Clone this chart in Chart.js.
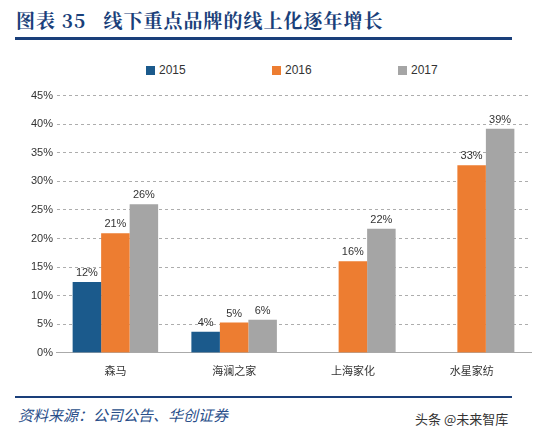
<!DOCTYPE html>
<html><head><meta charset="utf-8">
<script src="https://cdn.jsdelivr.net/npm/chart.js@4"></script>
<style>
body{margin:0;width:558px;height:439px;background:#fff;position:relative;font-family:"Noto Sans CJK SC",sans-serif;overflow:hidden}
#t{position:absolute;left:16px;top:6px;font-size:19px;font-weight:bold;color:#1a3f7a;font-family:"Noto Serif CJK SC","Noto Sans CJK SC",serif;letter-spacing:1px}
.ln{position:absolute;left:15px;width:497px;height:3px;background:#1a3f7a}
#src{position:absolute;left:18px;top:404px;font-size:15px;font-style:italic;color:#2a4f8a}
#wm{position:absolute;left:415px;top:409px;font-size:13px;color:#333}
#c{position:absolute;left:0;top:86px}
#lg{position:absolute;top:63px;left:0;font:12px "Liberation Sans";color:#333}
#lg span{position:absolute;white-space:nowrap}
#lg i{display:inline-block;width:9px;height:9px;margin-right:4px;vertical-align:-1px}
</style></head><body>
<div id="t">图表 35&nbsp;&nbsp;&nbsp;线下重点品牌的线上化逐年增长</div>
<div class="ln" style="top:37px"></div>
<div class="ln" style="top:396px;height:2px"></div>
<div id="lg"></div>
<div id="src">资料来源：公司公告、华创证券</div>
<div id="wm">头条 @未来智库</div>
<canvas id="c" width="545" height="294"></canvas>
<script>
const categories=["森马","海澜之家","上海家化","水星家纺"];
const seriesNames=["2015","2016","2017"];
const v2015=[12.4,3.7,null,null];
const v2016=[20.9,5.3,16,32.8];
const v2017=[26,5.8,21.7,39.2];
const labels2015=["12%","4%","",""];
const labels2016=["21%","5%","16%","33%"];
const labels2017=["26%","6%","22%","39%"];
const colors=["#1b5a8c","#ed7d31","#a5a5a5"];
const lbls=[labels2015,labels2016,labels2017];
const lgX=[146,272,398];
document.getElementById("lg").innerHTML=seriesNames.map((s,i)=>`<span style="left:${lgX[i]}px"><i style="background:${colors[i]}"></i>${s}</span>`).join("");
const dl={id:"dl",afterDatasetsDraw(ch){const x=ch.ctx;x.save();x.font="11px Liberation Sans";x.fillStyle="#333";x.textAlign="center";
ch.data.datasets.forEach((d,i)=>{ch.getDatasetMeta(i).data.forEach((b,j)=>{const t=lbls[i][j];if(t)x.fillText(t,b.x,b.y-6);});});x.restore();}};
new Chart(document.getElementById("c"),{type:"bar",
data:{labels:categories,datasets:[v2015,v2016,v2017].map((d,i)=>({label:seriesNames[i],data:d,backgroundColor:colors[i],categoryPercentage:0.72,barPercentage:1}))},
options:{responsive:false,animation:false,layout:{padding:{left:28,right:14,top:4}},
plugins:{legend:{display:false},tooltip:{enabled:false}},
scales:{x:{grid:{display:false},border:{color:"#aaa"},ticks:{color:"#333",font:{size:11,family:"Noto Sans CJK SC"}}},
y:{min:0,max:45,ticks:{stepSize:5,callback:v=>v+"%",color:"#333",font:{size:11,family:"Liberation Sans"}},grid:{color:"#999",tickLength:0,lineWidth:0.8},border:{display:true,color:"rgba(0,0,0,0)",dash:[3,3]}}}},
plugins:[dl]});
</script></body></html>
